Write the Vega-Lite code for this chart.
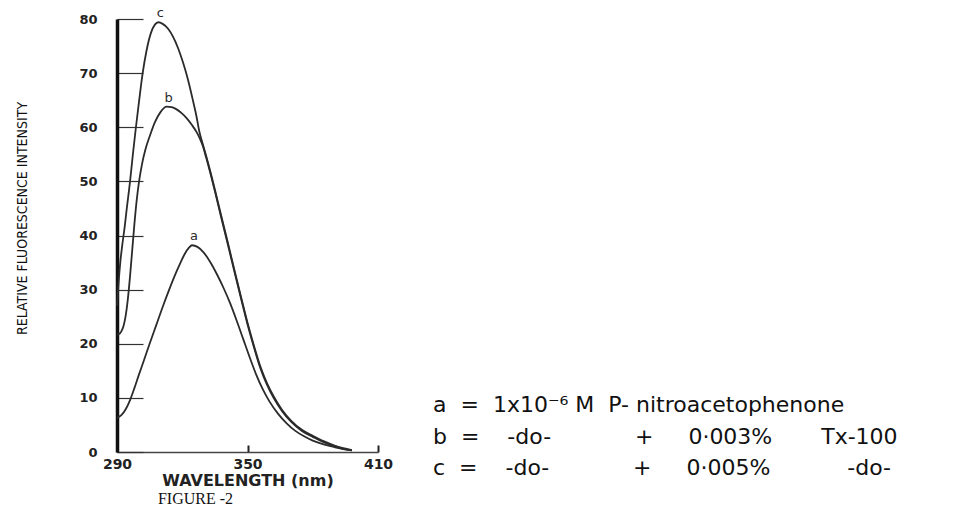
{
  "$schema": "https://vega.github.io/schema/vega-lite/v6.json",
  "width": 261,
  "height": 433,
  "autosize": {"type": "none"},
  "padding": {"left": 117, "top": 19, "right": 585, "bottom": 54},
  "background": "white",
  "title": {"text": "FIGURE -2", "orient": "bottom", "anchor": "middle", "dx": -52, "offset": 3, "font": "Liberation Serif", "fontSize": 16, "fontWeight": "normal", "color": "#111111"},
  "datasets": {
    "curves": [
      {"s": "a", "w": 290, "v": 6.3}, {"s": "a", "w": 292, "v": 6.8}, {"s": "a", "w": 294, "v": 7.9}, {"s": "a", "w": 296, "v": 9.6},
      {"s": "a", "w": 298, "v": 11.8}, {"s": "a", "w": 300, "v": 14.2}, {"s": "a", "w": 302, "v": 16.5}, {"s": "a", "w": 305, "v": 20.0},
      {"s": "a", "w": 308, "v": 23.4}, {"s": "a", "w": 311, "v": 26.8}, {"s": "a", "w": 314, "v": 30.0}, {"s": "a", "w": 317, "v": 33.0},
      {"s": "a", "w": 319, "v": 34.8}, {"s": "a", "w": 321, "v": 36.5}, {"s": "a", "w": 323, "v": 37.7}, {"s": "a", "w": 324.5, "v": 38.2},
      {"s": "a", "w": 327, "v": 37.9}, {"s": "a", "w": 330, "v": 36.8}, {"s": "a", "w": 333, "v": 35.0}, {"s": "a", "w": 336, "v": 32.8},
      {"s": "a", "w": 339, "v": 30.3}, {"s": "a", "w": 342, "v": 27.5}, {"s": "a", "w": 345, "v": 24.3}, {"s": "a", "w": 348, "v": 20.9},
      {"s": "a", "w": 351, "v": 17.5}, {"s": "a", "w": 354, "v": 14.3}, {"s": "a", "w": 357, "v": 11.6}, {"s": "a", "w": 360, "v": 9.4},
      {"s": "a", "w": 364, "v": 7.1}, {"s": "a", "w": 368, "v": 5.3}, {"s": "a", "w": 372, "v": 3.9}, {"s": "a", "w": 376, "v": 2.9},
      {"s": "a", "w": 380, "v": 2.1}, {"s": "a", "w": 385, "v": 1.4}, {"s": "a", "w": 390, "v": 0.9}, {"s": "a", "w": 394, "v": 0.55},
      {"s": "a", "w": 398, "v": 0.3},

      {"s": "b", "w": 290, "v": 21.7}, {"s": "b", "w": 291, "v": 21.8}, {"s": "b", "w": 292, "v": 22.3}, {"s": "b", "w": 293, "v": 23.3},
      {"s": "b", "w": 294, "v": 25.2}, {"s": "b", "w": 295, "v": 28.3}, {"s": "b", "w": 296, "v": 32.5}, {"s": "b", "w": 297, "v": 37.3},
      {"s": "b", "w": 298, "v": 42.1}, {"s": "b", "w": 299, "v": 46.3}, {"s": "b", "w": 300, "v": 49.6}, {"s": "b", "w": 301.5, "v": 53.2},
      {"s": "b", "w": 303, "v": 55.8}, {"s": "b", "w": 305, "v": 58.3}, {"s": "b", "w": 307.5, "v": 61.0}, {"s": "b", "w": 310, "v": 62.8},
      {"s": "b", "w": 312.8, "v": 63.8}, {"s": "b", "w": 315.1, "v": 63.7}, {"s": "b", "w": 317.4, "v": 63.3}, {"s": "b", "w": 319.7, "v": 62.6},
      {"s": "b", "w": 322, "v": 61.7}, {"s": "b", "w": 324.3, "v": 60.5}, {"s": "b", "w": 326.6, "v": 59.1}, {"s": "b", "w": 328, "v": 58.0},
      {"s": "b", "w": 329.5, "v": 56.5}, {"s": "b", "w": 331, "v": 54.4}, {"s": "b", "w": 333, "v": 51.4}, {"s": "b", "w": 335, "v": 48.2},
      {"s": "b", "w": 338, "v": 43.2}, {"s": "b", "w": 341, "v": 38.3}, {"s": "b", "w": 344, "v": 33.3}, {"s": "b", "w": 347, "v": 28.4},
      {"s": "b", "w": 350, "v": 23.6}, {"s": "b", "w": 353, "v": 19.3}, {"s": "b", "w": 356, "v": 15.4}, {"s": "b", "w": 359, "v": 12.4},
      {"s": "b", "w": 362, "v": 10.0}, {"s": "b", "w": 366, "v": 7.5}, {"s": "b", "w": 370, "v": 5.6}, {"s": "b", "w": 375, "v": 3.9},
      {"s": "b", "w": 380, "v": 2.8}, {"s": "b", "w": 385, "v": 1.8}, {"s": "b", "w": 390, "v": 1.1}, {"s": "b", "w": 394, "v": 0.6},
      {"s": "b", "w": 398, "v": 0.3},

      {"s": "c", "w": 290, "v": 27.0}, {"s": "c", "w": 290.5, "v": 30.0}, {"s": "c", "w": 291.5, "v": 35.0}, {"s": "c", "w": 292.5, "v": 38.5},
      {"s": "c", "w": 293.5, "v": 41.5}, {"s": "c", "w": 294.5, "v": 45.0}, {"s": "c", "w": 296, "v": 50.0}, {"s": "c", "w": 297.3, "v": 55.0},
      {"s": "c", "w": 298.7, "v": 60.0}, {"s": "c", "w": 300.2, "v": 65.0}, {"s": "c", "w": 301.8, "v": 70.0}, {"s": "c", "w": 303.5, "v": 74.0},
      {"s": "c", "w": 305.5, "v": 77.3}, {"s": "c", "w": 307.5, "v": 79.0}, {"s": "c", "w": 309, "v": 79.4}, {"s": "c", "w": 311, "v": 79.1},
      {"s": "c", "w": 313.5, "v": 78.2}, {"s": "c", "w": 315.8, "v": 76.7}, {"s": "c", "w": 318.1, "v": 74.6}, {"s": "c", "w": 320.4, "v": 71.9},
      {"s": "c", "w": 322.7, "v": 68.7}, {"s": "c", "w": 325, "v": 64.8}, {"s": "c", "w": 326.6, "v": 61.9}, {"s": "c", "w": 327.8, "v": 59.3},
      {"s": "c", "w": 329.5, "v": 56.8}, {"s": "c", "w": 331, "v": 54.7}, {"s": "c", "w": 333, "v": 51.7}, {"s": "c", "w": 335, "v": 48.5},
      {"s": "c", "w": 338, "v": 43.5}, {"s": "c", "w": 341, "v": 38.6}, {"s": "c", "w": 344, "v": 33.6}, {"s": "c", "w": 347, "v": 28.7},
      {"s": "c", "w": 350, "v": 23.9}, {"s": "c", "w": 353, "v": 19.6}, {"s": "c", "w": 356, "v": 15.7}, {"s": "c", "w": 359, "v": 12.7},
      {"s": "c", "w": 362, "v": 10.3}, {"s": "c", "w": 366, "v": 7.7}, {"s": "c", "w": 370, "v": 5.8}, {"s": "c", "w": 375, "v": 4.1},
      {"s": "c", "w": 380, "v": 3.0}, {"s": "c", "w": 385, "v": 2.0}, {"s": "c", "w": 390, "v": 1.2}, {"s": "c", "w": 394, "v": 0.7},
      {"s": "c", "w": 398, "v": 0.35}
    ]
  },
  "data": {"name": "curves"},
  "encoding": {
    "x": {
      "field": "w", "type": "quantitative", "title": "WAVELENGTH (nm)",
      "scale": {"domain": [290, 410], "nice": false, "zero": false},
      "axis": {"values": [290, 350, 410], "grid": false, "tickSize": -7, "tickWidth": 2, "tickColor": "#222222",
        "domainColor": "#444444", "domainWidth": 1.5, "labelPadding": 12, "labelFont": "DejaVu Sans", "labelFontSize": 14,
        "labelFontWeight": "bold", "labelColor": "#222222", "labelFlush": false, "labelOverlap": false,
        "titleFont": "DejaVu Sans", "titleFontSize": 16, "titleFontWeight": "bold", "titleColor": "#222222", "titlePadding": 1}
    },
    "y": {
      "field": "v", "type": "quantitative", "title": "RELATIVE FLUORESCENCE INTENSITY",
      "scale": {"domain": [0, 80], "nice": false},
      "axis": {"values": [0, 10, 20, 30, 40, 50, 60, 70, 80], "grid": false, "tickSize": -26, "tickWidth": 1.2, "tickColor": "#333333",
        "domainColor": "#111111", "domainWidth": 3.5, "labelPadding": 46, "labelFont": "DejaVu Sans", "labelFontSize": 13,
        "labelFontWeight": "bold", "labelColor": "#222222", "labelFlush": false, "labelOverlap": false,
        "titleFont": "DejaVu Sans Condensed", "titleFontSize": 14, "titleFontWeight": "normal", "titleColor": "#111111",
        "titleX": -95, "titleY": 199, "titleAngle": -90, "titleAlign": "center", "titleBaseline": "middle"}
    },
    "color": {
      "field": "s", "type": "nominal",
      "scale": {"domain": ["a", "b", "c"], "range": ["#2b2b2b", "#2b2b2b", "#2b2b2b"]},
      "legend": {
        "orient": "none", "legendX": 294, "legendY": 375, "title": null,
        "symbolOpacity": 0, "symbolSize": 0, "symbolStrokeWidth": 0, "labelOffset": 0, "rowPadding": 9.5, "labelLimit": 0,
        "labelFont": "DejaVu Sans", "labelFontSize": 22, "labelColor": "#111111",
        "labelExpr": "datum.value == 'a' ? 'a\u00a0\u00a0=\u00a0\u00a01x10\u207b\u2076\u00a0M\u00a0\u00a0P-\u00a0nitroacetophenone' : datum.value == 'b' ? 'b\u00a0\u00a0=\u00a0\u00a0\u00a0\u00a0-do-\u00a0\u00a0\u00a0\u00a0\u00a0\u00a0\u00a0\u00a0\u00a0\u00a0\u00a0\u00a0+\u00a0\u00a0\u00a0\u00a0\u00a00\u00b7003%\u00a0\u00a0\u00a0\u00a0\u00a0\u00a0\u00a0Tx-100' : 'c\u00a0\u00a0=\u00a0\u00a0\u00a0\u00a0-do-\u00a0\u00a0\u00a0\u00a0\u00a0\u00a0\u00a0\u00a0\u00a0\u00a0\u00a0\u00a0+\u00a0\u00a0\u00a0\u00a0\u00a00\u00b7005%\u00a0\u00a0\u00a0\u00a0\u00a0\u00a0\u00a0\u00a0\u00a0\u00a0\u00a0-do-'"
      }
    }
  },
  "layer": [
    {
      "mark": {"type": "line", "interpolate": "monotone", "strokeWidth": 1.8, "clip": false}
    },
    {
      "transform": [
        {"joinaggregate": [{"op": "max", "field": "v", "as": "peak"}], "groupby": ["s"]},
        {"filter": "datum.v == datum.peak"}
      ],
      "mark": {"type": "text", "dx": 2, "dy": -9, "fontSize": 13, "font": "DejaVu Sans"},
      "encoding": {"text": {"field": "s"}}
    }
  ],
  "config": {"view": {"stroke": null}}
}
